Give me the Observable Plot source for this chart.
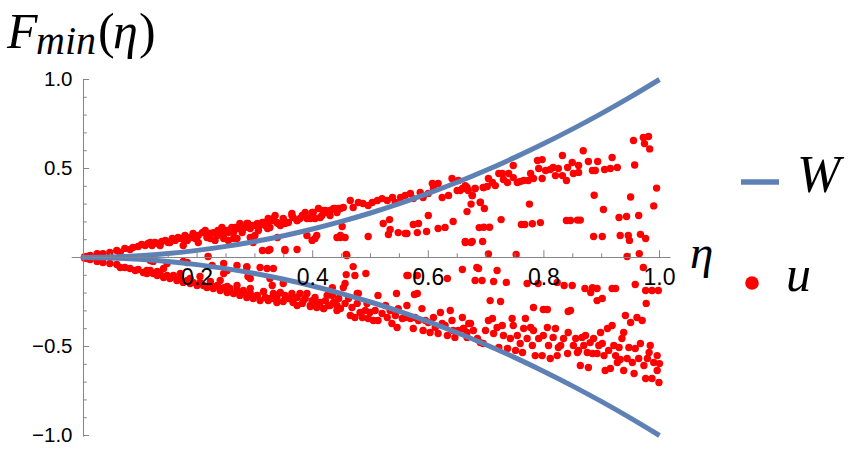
<!DOCTYPE html>
<html><head><meta charset="utf-8">
<script src="https://cdn.jsdelivr.net/npm/d3@7"></script>
<script src="https://cdn.jsdelivr.net/npm/@observablehq/plot@0.6"></script>
<style>body{margin:0;background:#fff}</style>
</head><body><div id="chart"></div>
<script>
// Curve W
const wEta   = [0,0.05,0.1,0.15,0.2,0.25,0.3,0.35,0.4,0.45,0.5,0.55,0.6,0.65,0.7,0.75,0.8,0.85,0.9,0.95,1.0];
const wUpper = [0,0.0025,0.01,0.0225,0.04,0.0625,0.09,0.1225,0.16,0.2025,0.25,0.3025,0.36,0.4225,0.49,0.5625,0.64,0.7225,0.81,0.9025,1.0];
const wLower = [0,-0.0025,-0.01,-0.0225,-0.04,-0.0625,-0.09,-0.1225,-0.16,-0.2025,-0.25,-0.3025,-0.36,-0.4225,-0.49,-0.5625,-0.64,-0.7225,-0.81,-0.9025,-1.0];

// points u: [eta, value]
const uUpperBand = [
[0.005,0.003],[0.01,0.006],[0.015,0.011],[0.027,0.022],[0.037,0.022],[0.049,0.028],[0.061,0.039],[0.067,0.028],[0.075,0.051],[0.084,0.045],
[0.089,0.056],[0.098,0.062],[0.104,0.073],[0.11,0.067],[0.115,0.079],[0.122,0.067],[0.127,0.084],[0.132,0.079],[0.139,0.09],[0.145,0.096],
[0.15,0.084],[0.157,0.107],[0.162,0.096],[0.167,0.112],[0.174,0.107],[0.179,0.124],[0.183,0.096],[0.188,0.112],[0.193,0.135],[0.197,0.107],
[0.202,0.124],[0.209,0.14],[0.214,0.152],[0.217,0.112],[0.223,0.135],[0.228,0.14],[0.231,0.096],[0.236,0.152],[0.243,0.169],[0.245,0.135],
[0.252,0.152],[0.254,0.096],[0.26,0.169],[0.263,0.14],[0.269,0.163],[0.274,0.191],[0.278,0.14],[0.283,0.169],[0.288,0.191],[0.292,0.163],
[0.297,0.18],[0.304,0.191],[0.306,0.152],[0.313,0.197],[0.318,0.18],[0.323,0.219],[0.33,0.208],[0.335,0.236],[0.338,0.197],
[0.119,0.084],[0.136,0.067],[0.153,0.084],[0.167,0.107],[0.176,0.067],[0.193,0.112],[0.202,0.084],[0.211,0.14],[0.223,0.107],[0.235,0.124],
[0.243,0.163],[0.246,0.107],[0.254,0.14],[0.266,0.169],[0.269,0.107],[0.278,0.152],[0.286,0.191],[0.292,0.112],[0.3,0.124],[0.306,0.169],
[0.315,0.197],[0.326,0.169],[0.332,0.219],[0.344,0.18],[0.355,0.197],[0.364,0.236],[0.373,0.208],[0.384,0.236],[0.396,0.219],[0.401,0.253],
[0.413,0.225],[0.422,0.264],[0.43,0.236],[0.439,0.275],
[0.326,0.208],[0.34,0.191],[0.349,0.219],[0.352,0.191],[0.358,0.197],[0.364,0.247],[0.366,0.225],[0.373,0.208],[0.378,0.219],[0.382,0.236],
[0.387,0.253],[0.39,0.219],[0.396,0.225],[0.399,0.253],[0.404,0.219],[0.41,0.275],[0.416,0.236],[0.419,0.264],[0.425,0.253],[0.43,0.264],
[0.436,0.275],[0.442,0.253],[0.445,0.275],
[0.448,0.275],[0.453,0.281],[0.465,0.32],[0.47,0.281],[0.479,0.309],[0.487,0.303],[0.496,0.292],[0.503,0.309],[0.512,0.32],[0.52,0.331],
[0.529,0.32],[0.538,0.337],[0.543,0.309],[0.552,0.337],[0.56,0.348],[0.569,0.36],[0.574,0.331],[0.586,0.365],[0.591,0.337],[0.6,0.36],
[0.607,0.416],[0.609,0.388],[0.617,0.416],[0.624,0.337],[0.635,0.348],[0.641,0.444],[0.65,0.376],[0.652,0.433],[0.659,0.388],[0.664,0.404],
[0.669,0.376],[0.676,0.348],[0.681,0.388],[0.69,0.309],[0.695,0.393],
[0.655,0.376],[0.667,0.393],[0.696,0.393],[0.702,0.399],[0.704,0.444],[0.711,0.421],[0.716,0.404],[0.722,0.472],[0.728,0.472],[0.73,0.438],
[0.737,0.421],[0.739,0.472],[0.747,0.517],[0.747,0.449],[0.754,0.421],[0.759,0.427],[0.765,0.433],[0.773,0.433],[0.777,0.472],[0.782,0.444],
[0.789,0.545],[0.791,0.5],[0.797,0.55],[0.797,0.444],[0.803,0.489],[0.811,0.494],[0.816,0.506],[0.82,0.46],[0.825,0.5],[0.832,0.573],
[0.832,0.46],[0.839,0.433],[0.841,0.506],[0.849,0.534],[0.851,0.472],[0.86,0.517],[0.86,0.478],[0.868,0.6],[0.877,0.539],[0.884,0.489],
[0.889,0.489],[0.893,0.539],[0.905,0.494],[0.915,0.5],[0.918,0.562],[0.927,0.506],
[0.955,0.657],[0.972,0.674],[0.981,0.68],[0.974,0.64],[0.983,0.61],[0.957,0.52]
];
const uUpperScatter = [
[0.313,0.039],[0.323,0.039],[0.297,0.084],[0.219,0.006],[0.263,0.107],[0.298,0.112],[0.322,0.163],[0.339,0.112],
[0.39,0.124],[0.399,0.096],[0.404,0.107],[0.407,0.124],[0.442,0.112],[0.448,0.112],[0.451,0.174],[0.326,0.045],[0.352,0.045],[0.373,0.045],[0.459,0.011],
[0.448,0.124],[0.456,0.112],[0.458,0.017],[0.496,0.118],[0.522,0.191],[0.533,0.213],[0.534,0.157],[0.531,0.129],[0.548,0.14],[0.56,0.135],
[0.563,0.135],[0.574,0.185],[0.583,0.191],[0.581,0.14],[0.597,0.146],[0.6,0.236],[0.617,0.163],[0.629,0.169],[0.643,0.202],[0.664,0.084],[0.674,0.084],
[0.995,0.39],[0.95,0.34],[0.99,0.29],[0.964,0.236],[0.93,0.225],[0.943,0.23],[0.903,0.27],[0.887,0.35],[0.886,0.118],[0.901,0.118],
[0.932,0.124],[0.946,0.124],[0.948,0.096],[0.967,0.13],[0.976,0.107],[0.965,0.022],[0.944,0.006],[0.839,0.208],[0.846,0.208],[0.858,0.21],
[0.863,0.21],[0.761,0.185],[0.767,0.185],[0.78,0.19],[0.794,0.196],[0.726,0.213],[0.775,0.3],[0.688,0.168],[0.696,0.17],[0.706,0.17],
[0.664,0.09],[0.676,0.09],[0.694,0.09],[0.704,0.02],[0.752,0.017],[0.667,0.258],[0.674,0.3],[0.69,0.31],[0.697,0.275],[0.676,0.348],
[0.681,0.388],[0.661,0.388]
];
const uLowerBand = [
[0.005,-0.003],[0.01,-0.006],[0.015,-0.011],[0.027,-0.022],[0.037,-0.028],[0.049,-0.034],[0.061,-0.039],[0.067,-0.056],[0.075,-0.056],[0.084,-0.062],
[0.093,-0.073],[0.098,-0.067],[0.107,-0.084],[0.113,-0.09],[0.119,-0.073],[0.124,-0.09],[0.131,-0.101],[0.136,-0.09],[0.142,-0.112],[0.148,-0.101],
[0.153,-0.118],[0.159,-0.107],[0.165,-0.129],[0.171,-0.118],[0.176,-0.14],[0.183,-0.129],[0.188,-0.146],[0.193,-0.14],[0.2,-0.157],[0.205,-0.14],
[0.211,-0.157],[0.217,-0.169],[0.223,-0.146],[0.228,-0.174],[0.235,-0.157],[0.24,-0.185],[0.246,-0.169],[0.252,-0.197],[0.257,-0.174],[0.263,-0.202],
[0.269,-0.185],[0.274,-0.213],[0.28,-0.197],[0.286,-0.225],[0.292,-0.202],[0.297,-0.23],[0.304,-0.213],[0.309,-0.242],[0.318,-0.225],[0.323,-0.242],
[0.332,-0.23],[0.338,-0.253],[0.33,-0.157],
[0.113,-0.073],[0.131,-0.079],[0.142,-0.062],[0.159,-0.101],[0.171,-0.09],[0.188,-0.118],[0.205,-0.107],[0.223,-0.135],[0.24,-0.129],[0.252,-0.163],
[0.269,-0.157],[0.28,-0.185],[0.292,-0.174],[0.304,-0.213],[0.315,-0.191],[0.326,-0.23],[0.338,-0.213],[0.349,-0.247],[0.361,-0.23],[0.373,-0.27],
[0.384,-0.242],[0.396,-0.275],[0.407,-0.258],[0.419,-0.287],[0.43,-0.27],[0.442,-0.298],[0.425,-0.213],
[0.332,-0.202],[0.338,-0.225],[0.344,-0.197],[0.349,-0.146],[0.352,-0.213],[0.358,-0.23],[0.364,-0.202],[0.366,-0.253],[0.373,-0.225],[0.378,-0.202],
[0.382,-0.258],[0.387,-0.23],[0.39,-0.202],[0.396,-0.27],[0.399,-0.242],[0.404,-0.225],[0.407,-0.281],[0.413,-0.253],[0.419,-0.287],[0.422,-0.242],
[0.427,-0.27],[0.434,-0.213],[0.436,-0.253],[0.442,-0.27],[0.445,-0.23],[0.448,-0.287],[0.453,-0.169],[0.456,-0.258],[0.462,-0.23],[0.465,-0.326],
[0.468,-0.281],[0.473,-0.337],[0.477,-0.258],[0.479,-0.202],[0.482,-0.309],[0.486,-0.337],[0.491,-0.298],[0.494,-0.258],[0.496,-0.343],[0.499,-0.309],
[0.505,-0.354],[0.508,-0.298],[0.513,-0.213],[0.513,-0.354],[0.52,-0.315],[0.526,-0.27],[0.529,-0.337],[0.534,-0.298],[0.537,-0.371],[0.543,-0.326],
[0.546,-0.393],[0.548,-0.287],[0.555,-0.343],[0.56,-0.337],[0.563,-0.27],[0.569,-0.343],[0.574,-0.399],[0.577,-0.337],[0.583,-0.354],[0.589,-0.287],
[0.591,-0.41],[0.595,-0.354],[0.6,-0.365],[0.603,-0.421],[0.609,-0.337],[0.612,-0.393],[0.617,-0.427],[0.621,-0.309],[0.624,-0.371],[0.629,-0.382],
[0.633,-0.438],[0.638,-0.298],[0.641,-0.354],[0.643,-0.41],[0.646,-0.449],[0.652,-0.41],[0.659,-0.337],[0.661,-0.399],[0.667,-0.449],[0.67,-0.371],
[0.661,-0.399],[0.667,-0.421],[0.673,-0.371],[0.678,-0.41],[0.685,-0.455],[0.69,-0.478],[0.695,-0.483],[0.699,-0.41],[0.704,-0.354],[0.711,-0.343],
[0.713,-0.427],[0.719,-0.393],[0.722,-0.506],[0.728,-0.382],[0.73,-0.438],[0.737,-0.511],[0.742,-0.455],[0.745,-0.343],[0.747,-0.382],[0.751,-0.522],
[0.754,-0.438],[0.759,-0.483],[0.763,-0.534],[0.765,-0.399],[0.768,-0.343],[0.771,-0.455],[0.777,-0.393],[0.78,-0.494],[0.782,-0.41],[0.785,-0.551],
[0.791,-0.455],[0.797,-0.551],[0.799,-0.438],[0.806,-0.393],[0.808,-0.494],[0.811,-0.567],[0.816,-0.449],[0.82,-0.399],[0.823,-0.551],[0.825,-0.506],
[0.829,-0.494],[0.834,-0.455],[0.841,-0.539],[0.842,-0.421],[0.846,-0.298],[0.851,-0.494],[0.855,-0.455],[0.858,-0.534],[0.86,-0.522],[0.863,-0.607],
[0.866,-0.449],[0.869,-0.494],[0.872,-0.438],[0.875,-0.534],[0.877,-0.618],[0.88,-0.478],[0.884,-0.539],[0.886,-0.455],[0.892,-0.539],[0.895,-0.494],
[0.898,-0.421],[0.901,-0.483],[0.904,-0.551],[0.906,-0.635],[0.91,-0.399],[0.912,-0.522],[0.915,-0.624],[0.918,-0.382],[0.921,-0.494],[0.924,-0.551],
[0.927,-0.59],[0.93,-0.506],[0.932,-0.573],[0.935,-0.455],[0.938,-0.421],[0.938,-0.635],[0.941,-0.326],[0.944,-0.567],[0.947,-0.506],[0.95,-0.365],
[0.953,-0.59],[0.956,-0.652],[0.958,-0.511],[0.961,-0.337],[0.964,-0.567],[0.967,-0.483],[0.97,-0.354],[0.973,-0.607],[0.976,-0.68],[0.979,-0.567],
[0.982,-0.534],[0.984,-0.494],[0.987,-0.68],[0.99,-0.59],[0.996,-0.551],[0.996,-0.635],[0.999,-0.702],[1.0,-0.596]
];
const uLowerScatter = [
[0.119,-0.017],[0.148,-0.034],[0.183,-0.028],[0.246,-0.034],[0.252,-0.073],[0.269,-0.045],[0.286,-0.056],[0.292,-0.118],[0.309,-0.056],[0.321,-0.062],
[0.124,-0.022],[0.176,-0.022],[0.226,-0.045],[0.246,-0.09],[0.288,-0.107],[0.286,-0.051],
[0.332,-0.062],[0.326,-0.118],[0.352,0.039],[0.47,-0.051],[0.458,-0.096],[0.473,-0.101],[0.492,-0.09],[0.563,-0.101],[0.581,-0.101],[0.633,-0.118],
[0.659,-0.067],[0.545,-0.202],[0.581,-0.202],[0.576,-0.208],[0.434,-0.169],[0.456,-0.146],[0.477,-0.202],
[0.687,-0.062],[0.719,-0.073],[0.681,-0.129],[0.693,-0.129],[0.713,-0.135],[0.735,-0.14],[0.771,-0.146],[0.79,-0.146],[0.823,-0.14],
[0.835,-0.157],[0.849,-0.157],[0.871,-0.174],[0.884,-0.169],[0.892,-0.174],[0.918,-0.174],[0.924,-0.174],[0.958,-0.152],[0.972,-0.056],[0.976,-0.185],
[0.987,-0.185],[0.998,-0.185],[0.881,-0.197],[0.892,-0.242],[0.901,-0.23],[0.707,-0.242],[0.725,-0.247],[0.782,-0.281],[0.799,-0.292],[0.806,-0.292],
[0.842,-0.303],[0.977,-0.258],[0.565,-0.101],[0.684,-0.056]
];

const xMajorTicks = [0.2,0.4,0.6,0.8,1.0];
const xTickLabels = ["0.2","0.4","0.6","0.8","1.0"];
const xMinorTicks = [0.05,0.1,0.15,0.25,0.3,0.35,0.45,0.5,0.55,0.65,0.7,0.75,0.85,0.9,0.95];
const yMajorTicks = [1.0,0.5,-0.5,-1.0];
const yTickLabels = ["1.0","0.5","−0.5","−1.0"];
const yMinorTicks = [0.9,0.8,0.7,0.6,0.4,0.3,0.2,0.1,-0.1,-0.2,-0.3,-0.4,-0.6,-0.7,-0.8,-0.9];

const wData = wEta.flatMap((e,i)=>[{eta:e,w:wUpper[i],branch:"up"},{eta:e,w:wLower[i],branch:"down"}]);
const uData = [...uUpperBand,...uUpperScatter,...uLowerBand,...uLowerScatter].map(([eta,u])=>({eta,u}));

const axisColor = "#858585";
const yAxisX = 0.0035;
const sans = "Liberation Sans";
const serif = "Liberation Serif";

const svg = Plot.plot({
  width:862, height:456, marginLeft:81, marginRight:203, marginTop:79, marginBottom:21,
  x:{domain:[0,1], axis:null}, y:{domain:[-1,1], axis:null},
  style:{background:"#fff"},
  marks:[
    Plot.dot(uData,{x:"eta",y:"u",r:3.7,fill:"#ff0000",stroke:"none"}),
    Plot.line(wData,{x:"eta",y:"w",z:"branch",stroke:"#5e81b5",strokeWidth:5,curve:"natural",strokeLinecap:"butt"}),
    Plot.ruleY([0],{x1:-0.016,x2:1.02,stroke:axisColor}),
    Plot.ruleX([yAxisX],{y1:-1.01,y2:1.0,stroke:axisColor}),
    Plot.ruleX(xMajorTicks,{y1:0,y2:0.038,stroke:axisColor}),
    Plot.ruleX(xMinorTicks,{y1:0,y2:0.021,stroke:axisColor}),
    Plot.ruleY(yMajorTicks,{x1:yAxisX,x2:yAxisX+0.0105,stroke:axisColor}),
    Plot.ruleY(yMinorTicks,{x1:yAxisX,x2:yAxisX+0.0065,stroke:axisColor}),
    Plot.text(xMajorTicks,{x:d=>d,y:0,text:(d,i)=>xTickLabels[i],dy:20,fontSize:23,fontFamily:sans,fill:"#000"}),
    Plot.text(yMajorTicks,{x:yAxisX,y:d=>d,text:(d,i)=>yTickLabels[i],dx:-11,textAnchor:"end",fontSize:20.5,fontFamily:sans,fill:"#000"})
  ]
});

const s = d3.select(svg);
function addText(x,y,str,size,italic){
  s.append("text").attr("x",x).attr("y",y).attr("text-anchor","start")
   .attr("font-family",serif).attr("font-size",size)
   .attr("font-style",italic?"italic":"normal").attr("fill","#000").text(str);
}
// title F_min(η)
addText(7,48,"F",50,true);
addText(36,54,"min",40,true);
addText(98,48,"(",50,false);
addText(113,48,"η",50,true);
addText(139,48,")",50,false);
// axis label η
addText(690,268,"η",47,true);
// legend
s.append("line").attr("x1",741).attr("x2",779).attr("y1",182).attr("y2",182).attr("stroke","#5e81b5").attr("stroke-width",5.5);
addText(797,192,"W",52,true);
s.append("circle").attr("cx",752).attr("cy",283).attr("r",6.8).attr("fill","#ff0000");
addText(786,291,"u",50,true);

document.getElementById("chart").appendChild(svg);
</script>
</body></html>
